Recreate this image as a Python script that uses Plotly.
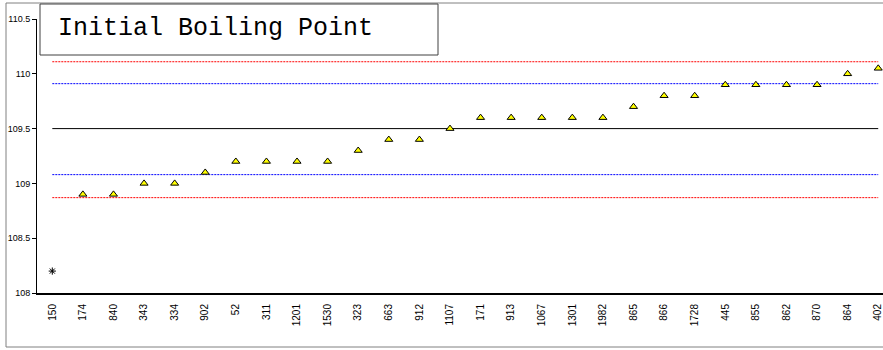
import plotly.graph_objects as go

# ---- data ----
samples = ["150", "174", "840", "343", "334", "902", "52", "311", "1201", "1530",
           "323", "663", "912", "1107", "171", "913", "1067", "1301", "1982", "865",
           "866", "1728", "445", "855", "862", "870", "864", "402"]
ibp = [108.2, 108.9, 108.9, 109.0, 109.0, 109.1, 109.2, 109.2, 109.2, 109.2,
       109.3, 109.4, 109.4, 109.5, 109.6, 109.6, 109.6, 109.6, 109.6, 109.7,
       109.8, 109.8, 109.9, 109.9, 109.9, 109.9, 110.0, 110.05]
outlier_samples = ["150"]
upper_red = 110.11
upper_blue = 109.91
center = 109.5
lower_blue = 109.08
lower_red = 108.87
y_ticks = [108, 108.5, 109, 109.5, 110, 110.5]
y_tick_text = ["108", "108.5", "109", "109.5", "110", "110.5"]
title_text = "Initial Boiling Point"

n = len(samples)
normal_x = [s for s in samples if s not in outlier_samples]
normal_y = [v for s, v in zip(samples, ibp) if s not in outlier_samples]
out_x = [s for s in samples if s in outlier_samples]
out_y = [v for s, v in zip(samples, ibp) if s in outlier_samples]

fig = go.Figure()

def hline(val, color, dash):
    fig.add_trace(go.Scatter(x=samples, y=[val] * n, mode="lines",
                             line=dict(color=color, width=1, dash=dash),
                             hoverinfo="skip", showlegend=False))

hline(upper_red, "#FF0000", "2px,1px")
hline(lower_red, "#FF0000", "2px,1px")
hline(upper_blue, "#0000FF", "2px,1px")
hline(lower_blue, "#0000FF", "2px,1px")
hline(center, "#000000", "solid")

fig.add_trace(go.Scatter(x=normal_x, y=normal_y, mode="markers",
                         marker=dict(symbol="triangle-up", size=7, color="#FFFF00",
                                     line=dict(color="#000000", width=1)),
                         showlegend=False))
fig.add_trace(go.Scatter(x=out_x, y=out_y, mode="markers",
                         marker=dict(symbol="asterisk-open", size=6, color="#000000",
                                     line=dict(color="#000000", width=1)),
                         showlegend=False))

# plot area in pixels: x 37..883, y 19..293
L, R, T, B = 37, 883, 19, 293
W, H = R - L, B - T
step = 30.59  # pixels per category

def px(x):
    return (x - L) / W

def py(y):
    return (B - y) / H

fig.update_layout(
    width=883, height=350, autosize=False,
    margin=dict(l=L, r=883 - R, t=T, b=350 - B, pad=0),
    paper_bgcolor="white", plot_bgcolor="white",
    font=dict(family="Liberation Sans, Arial, sans-serif", color="#000000"),
    xaxis=dict(type="category", range=[-0.5, (W / step) - 0.5], automargin=False,
               showgrid=False, zeroline=False, showline=True, linecolor="#000000",
               linewidth=2, ticks="", tickangle=-90, tickfont=dict(size=10),
               ticklabelstandoff=5),
    yaxis=dict(range=[108, 110.5], tickvals=y_ticks, ticktext=y_tick_text,
               automargin=False,
               showgrid=False, zeroline=False, showline=True, linecolor="#000000",
               linewidth=1, ticks="outside", ticklen=4, tickcolor="#000000",
               tickfont=dict(size=9)),
    shapes=[
        dict(type="rect", xref="paper", yref="paper",
             x0=px(6), x1=px(900), y0=py(347), y1=py(3),
             line=dict(color="#808080", width=1), fillcolor="rgba(0,0,0,0)", layer="below"),
        dict(type="rect", xref="paper", yref="paper",
             x0=px(40), x1=px(438), y0=py(55), y1=py(4),
             line=dict(color="#404040", width=1), fillcolor="white", layer="above"),
    ],
    annotations=[
        dict(text=title_text, xref="paper", yref="paper", x=px(56), y=py(29),
             xanchor="left", yanchor="middle", showarrow=False,
             font=dict(family="Liberation Mono, Courier New, monospace", size=25,
                       color="#000000")),
    ],
)

fig.write_html("out.html", config={"displayModeBar": False},
               post_script="document.body.style.margin='0';document.body.style.overflow='hidden';")
